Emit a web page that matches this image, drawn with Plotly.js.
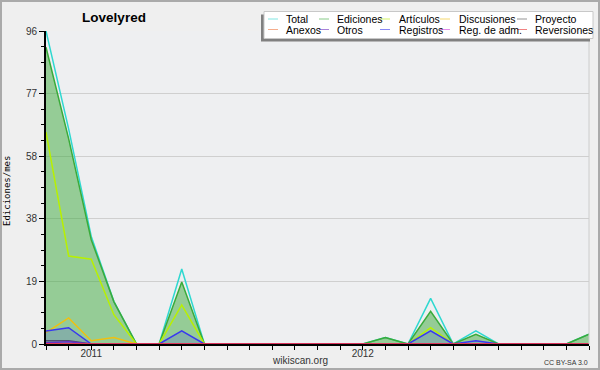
<!DOCTYPE html>
<html>
<head>
<meta charset="utf-8">
<script src="https://cdn.plot.ly/plotly-3.0.1.min.js"></script>
<style>
html,body{margin:0;padding:0;background:#efefef;}
#wrap{position:relative;width:600px;height:370px;}
#chart{width:600px;height:370px;}
#frame{position:absolute;left:0;top:0;width:596px;height:366px;border:2px solid #aaaaaa;pointer-events:none;}
</style>
</head>
<body>
<div id="wrap"><div id="chart"></div><div id="frame"></div></div>
<script>
// Months: Nov 2010 .. Nov 2012
var months = ['2010-11','2010-12','2011-01','2011-02','2011-03','2011-04','2011-05','2011-06','2011-07','2011-08','2011-09','2011-10','2011-11','2011-12','2012-01','2012-02','2012-03','2012-04','2012-05','2012-06','2012-07','2012-08','2012-09','2012-10','2012-11'];
var monthTickText = ['','','2011','','','','','','','','','','','','2012','','','','','','','','','',''];

var seriesNames = ['Total','Ediciones','Artículos','Discusiones','Proyecto','Anexos','Otros','Registros','Reg. de adm.','Reversiones'];
var seriesColors = ['#2ed8d0','#3aab3a','#b8f000','#f0c010','#505050','#f07840','#7030c0','#3838f0','#d040e0','#e83030'];

var total       = [96, 66, 33, 13, 0, 0, 23, 0, 0, 0, 0, 0, 0, 0, 0, 2, 0, 14, 0, 4, 0, 0, 0, 0, 3];
var ediciones   = [91, 63, 32, 13, 0, 0, 19, 0, 0, 0, 0, 0, 0, 0, 0, 2, 0, 10, 0, 3, 0, 0, 0, 0, 3];
var articulos   = [65, 27, 26, 9, 0, 0, 12, 0, 0, 0, 0, 0, 0, 0, 0, 0, 0, 5, 0, 0, 0, 0, 0, 0, 0];
var discusiones = [3.5, 8, 1, 2, 0, 0, 0, 0, 0, 0, 0, 0, 0, 0, 0, 0, 0, 0, 0, 0, 0, 0, 0, 0, 0];
var proyecto    = [1, 1, 0, 0, 0, 0, 0, 0, 0, 0, 0, 0, 0, 0, 0, 0, 0, 0, 0, 0, 0, 0, 0, 0, 0];
var anexos      = [0, 0, 0, 0, 0, 0, 0, 0, 0, 0, 0, 0, 0, 0, 0, 0, 0, 0, 0, 0, 0, 0, 0, 0, 0];
var otros       = [0.4, 0.7, 0, 0, 0, 0, 0, 0, 0, 0, 0, 0, 0, 0, 0, 0, 0, 0, 0, 0, 0, 0, 0, 0, 0];
var registros   = [4, 5, 0, 0, 0, 0, 4, 0, 0, 0, 0, 0, 0, 0, 0, 0, 0, 4, 0, 1, 0, 0, 0, 0, 0];
var regAdm      = [0, 0, 0, 0, 0, 0, 0, 0, 0, 0, 0, 0, 0, 0, 0, 0, 0, 0, 0, 0, 0, 0, 0, 0, 0];
var reversiones = [0, 0, 0, 0, 0, 0, 0, 0, 0, 0, 0, 0, 0, 0, 0, 0, 0, 0, 0, 0, 0, 0, 0, 0, 0];

var yTickVals = [0, 19.2, 38.4, 57.6, 76.8, 96];
var yTickText = ['0', '19', '38', '58', '77', '96'];

var allSeries = [total, ediciones, articulos, discusiones, proyecto, anexos, otros, registros, regAdm, reversiones];
var fills = {1: 'rgba(60,170,60,0.5)', 7: 'rgba(70,70,230,0.2)'};
var xIdx = months.map(function(m, i){ return i; });

var traces = allSeries.map(function(vals, i){
  var t = {
    type: 'scatter', mode: 'lines', name: seriesNames[i],
    x: xIdx, y: vals, text: months,
    line: {color: seriesColors[i], width: 1.5},
    showlegend: false, hoverinfo: 'skip'
  };
  if (fills[i]) { t.fill = 'tozeroy'; t.fillcolor = fills[i]; }
  return t;
});

// pixel helpers for the plot area (l=46, t=31, w=543, h=313)
var L = 46, T = 31, W = 543, H = 313;
function px(x){ return (x - L) / W; }
function py(y){ return (T + H - y) / H; }

var shapes = [
  {type:'line', xref:'paper', yref:'paper', x0:1, x1:1, y0:0, y1:1, line:{color:'#cccccc', width:1}},
  {type:'rect', xref:'paper', yref:'paper', x0:px(261), x1:px(590), y0:py(41.5), y1:py(14.5), fillcolor:'#808080', line:{width:0}, layer:'above'},
  {type:'rect', xref:'paper', yref:'paper', x0:px(264), x1:px(593), y0:py(38.5), y1:py(11.5), fillcolor:'#ffffff', line:{color:'#c8c8c8', width:1}, layer:'above'}
];
var annotations = [];
var colLine = [268, 319, 380, 440, 517];
var colText = [284, 335, 397, 457, 533];
var rowY = [19, 29.5];
seriesNames.forEach(function(name, i){
  var c = i % 5, r = Math.floor(i / 5);
  shapes.push({type:'line', xref:'paper', yref:'paper', x0:px(colLine[c]), x1:px(colLine[c] + 10), y0:py(rowY[r]), y1:py(rowY[r]), line:{color:seriesColors[i], width:1}, opacity:0.6, layer:'above'});
  annotations.push({xref:'paper', yref:'paper', x:px(colText[c]), y:py(rowY[r]), xanchor:'left', yanchor:'middle', showarrow:false, text:name, font:{family:'Liberation Sans, Arial, sans-serif', size:10.5, color:'#000'}});
});
annotations.push({xref:'paper', yref:'paper', x:px(7), y:py(191), textangle:-90, showarrow:false, text:'Ediciones/mes', font:{family:'DejaVu Sans Mono, monospace', size:9, color:'#000'}, xanchor:'center', yanchor:'middle'});
annotations.push({xref:'paper', yref:'paper', x:px(300), y:py(360), showarrow:false, text:'wikiscan.org', font:{family:'Liberation Sans, Arial, sans-serif', size:10, color:'#333'}, xanchor:'center', yanchor:'middle'});
annotations.push({xref:'paper', yref:'paper', x:px(590), y:py(362), showarrow:false, text:'CC BY-SA 3.0', font:{family:'Liberation Sans, Arial, sans-serif', size:7, color:'#333'}, xanchor:'right', yanchor:'middle'});

var layout = {
  width: 600, height: 370,
  margin: {l: L, r: 600 - L - W, t: T, b: 370 - T - H, pad: 0},
  paper_bgcolor: '#efefef',
  plot_bgcolor: '#eeeff1',
  title: {text: '<b>Lovelyred</b>', x: 114/600, xref:'container', xanchor:'center', y: 1 - 17/370, yref:'container', yanchor:'middle', font:{family:'Liberation Sans, Arial, sans-serif', size:13.5, color:'#000'}},
  showlegend: false,
  xaxis: {
    range: [0, 24], tickmode: 'array', tickvals: xIdx, ticktext: monthTickText,
    ticks: 'outside', ticklen: 4, tickwidth: 1, tickcolor: '#000', ticklabelstandoff: -5,
    showline: true, linecolor: '#000', linewidth: 2,
    showgrid: false, zeroline: false, fixedrange: true,
    tickfont: {family:'Liberation Sans, Arial, sans-serif', size: 10, color:'#333'}
  },
  yaxis: {
    range: [0, 96], tickmode: 'array', tickvals: yTickVals, ticktext: yTickText,
    ticks: 'outside', ticklen: 5, tickwidth: 1, tickcolor: '#000',
    minor: {tick0: 0, dtick: 4.8, ticks: 'outside', ticklen: 3, tickcolor: '#000', showgrid: false},
    showline: true, linecolor: '#000', linewidth: 2,
    showgrid: true, gridcolor: '#cfcfcf', gridwidth: 1, zeroline: false, fixedrange: true,
    tickfont: {family:'Liberation Sans, Arial, sans-serif', size: 10, color:'#333'}
  },
  shapes: shapes,
  annotations: annotations
};

Plotly.newPlot('chart', traces, layout, {staticPlot: true, displayModeBar: false});
</script>
</body>
</html>
